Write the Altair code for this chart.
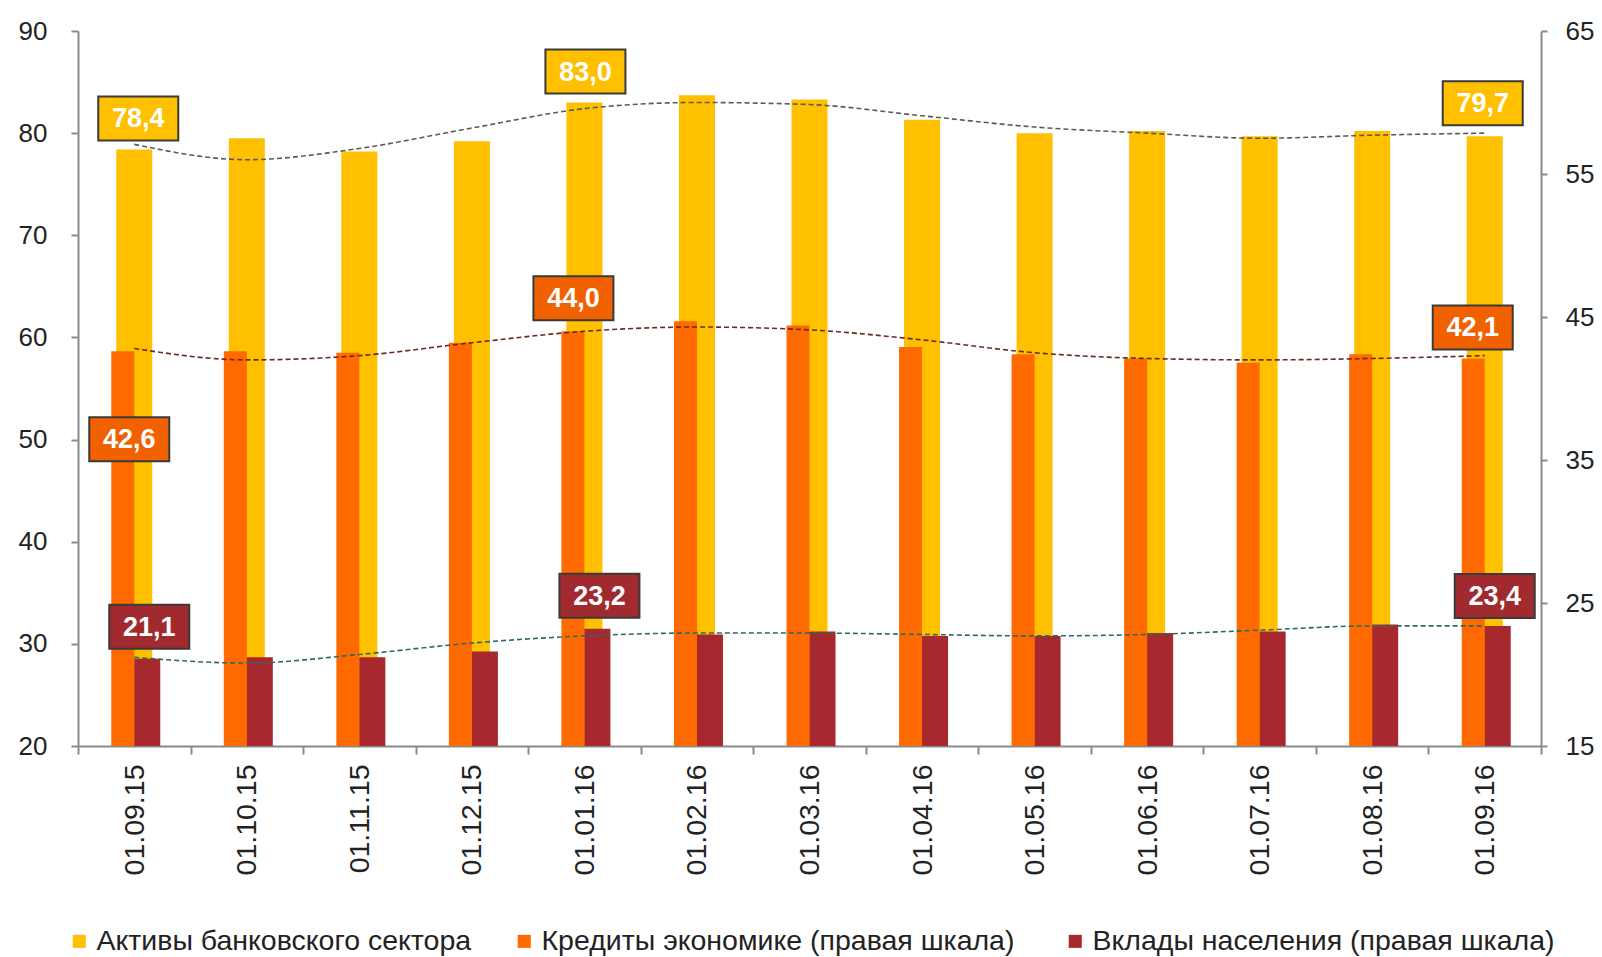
import altair as alt
import pandas as pd

categories = ["01.09.15", "01.10.15", "01.11.15", "01.12.15", "01.01.16", "01.02.16",
              "01.03.16", "01.04.16", "01.05.16", "01.06.16", "01.07.16", "01.08.16", "01.09.16"]
assets = [78.4, 79.5, 78.2, 79.2, 83.0, 83.7, 83.3, 81.3, 80.0, 80.2, 79.7, 80.2, 79.7]
credits = [42.6, 42.6, 42.5, 43.2, 44.0, 44.7, 44.4, 42.9, 42.4, 42.1, 41.8, 42.4, 42.1]
deposits = [21.1, 21.2, 21.2, 21.6, 23.2, 22.8, 23.0, 22.7, 22.7, 22.9, 23.0, 23.5, 23.4]
assets_trend = [78.9, 77.4, 78.5, 80.5, 82.4, 83.0, 82.8, 81.7, 80.6, 80.0, 79.5, 79.8, 80.0]
credits_trend = [42.8, 42.0, 42.3, 43.2, 44.0, 44.3, 44.1, 43.4, 42.5, 42.1, 42.0, 42.1, 42.3]
deposits_trend = [21.2, 20.8, 21.4, 22.2, 22.7, 22.9, 22.9, 22.8, 22.7, 22.8, 23.1, 23.4, 23.4]
series_names = ["Активы банковского сектора",
                "Кредиты  экономике (правая шкала)",
                "Вклады  населения  (правая шкала)"]
labelled_idx = [0, 4, 12]

# styles
FONT = "Liberation Sans"
col_a, col_c, col_d = "#FFC000", "#FF6A00", "#A8292D"
line_cols = ["#5E5A52", "#6B2A1E", "#2E6868"]
label_offsets = {
    ("a", 0): (4, -31), ("a", 4): (1, -31), ("a", 12): (-2, -33),
    ("c", 0): (-5, 88), ("c", 4): (-11, -33), ("c", 12): (-12, -31),
    ("d", 0): (15, -32), ("d", 4): (15, -33), ("d", 12): (10, -30),
}

df = pd.DataFrame({
    "cat": categories, "assets": assets, "credits": credits, "deposits": deposits,
    "assets_t": assets_trend, "credits_t": credits_trend, "deposits_t": deposits_trend,
    "s_a": [series_names[0]] * len(categories),
    "s_c": [series_names[1]] * len(categories),
    "s_d": [series_names[2]] * len(categories),
})

xscale = alt.Scale(paddingInner=0, paddingOuter=0)
left_scale = alt.Scale(domain=[20, 90], nice=False, zero=False)
right_scale = alt.Scale(domain=[15, 65], nice=False, zero=False)
color_scale = alt.Scale(domain=series_names, range=[col_a, col_c, col_d])
legend = alt.Legend(orient="none", legendX=-13, legendY=896, direction="horizontal",
                    title=None, symbolType="square", symbolSize=170, symbolStrokeWidth=0,
                    labelFontSize=28.5, labelFont=FONT, labelColor="#222222", labelLimit=0,
                    columnPadding=38, labelOffset=3)

x_axis = alt.Axis(title=None, labelAngle=270, labelFontSize=28.5, labelFont=FONT,
                  labelColor="#222222", tickBand="extent", tickSize=8, labelPadding=10,
                  domainColor="#8A8A8A", tickColor="#8A8A8A", domainWidth=2, tickWidth=2)
left_axis = alt.Axis(title=None, values=[20, 30, 40, 50, 60, 70, 80, 90], labelFontSize=26,
                     labelFont=FONT, labelColor="#222222", tickSize=7, labelPadding=24,
                     grid=False, domainColor="#8A8A8A", tickColor="#8A8A8A", domainWidth=2,
                     tickWidth=2)
right_axis = alt.Axis(title=None, orient="right", values=[15, 25, 35, 45, 55, 65], labelFontSize=26,
                      labelFont=FONT, labelColor="#222222", tickSize=6, labelPadding=18,
                      grid=False, domainColor="#8A8A8A", tickColor="#8A8A8A", domainWidth=2,
                      tickWidth=2)

base = alt.Chart(df)


def X():
    return alt.X("cat:N", sort=categories, scale=xscale, axis=x_axis)


def colour(field):
    return alt.Color(f"{field}:N", scale=color_scale, legend=legend)


bar_a = base.mark_bar(width=36).encode(
    x=X(), y=alt.Y("assets:Q", scale=left_scale, axis=left_axis),
    y2=alt.datum(20), color=colour("s_a"))
bar_c = base.mark_bar(width=23, xOffset=-11.5).encode(
    x=X(), y=alt.Y("credits:Q", scale=right_scale, axis=right_axis),
    y2=alt.datum(15), color=colour("s_c"))
bar_d = base.mark_bar(width=26, xOffset=13).encode(
    x=X(), y=alt.Y("deposits:Q", scale=right_scale, axis=None),
    y2=alt.datum(15), color=colour("s_d"))

lines = []
for field, sc, lc in [("assets_t", left_scale, line_cols[0]),
                      ("credits_t", right_scale, line_cols[1]),
                      ("deposits_t", right_scale, line_cols[2])]:
    lines.append(base.mark_line(strokeDash=[5, 3], strokeWidth=1.6, interpolate="monotone",
                                color=lc).encode(
        x=X(), y=alt.Y(f"{field}:Q", scale=sc, axis=None)))

label_layers = []
box_shape = "M-1,-0.55L1,-0.55L1,0.55L-1,0.55Z"
for key, vals, sc, fill in [("a", assets, left_scale, col_a),
                            ("c", credits, right_scale, "#F26100"),
                            ("d", deposits, right_scale, "#A02A2E")]:
    for i in labelled_idx:
        dx, dy = label_offsets[(key, i)]
        ldf = pd.DataFrame({"cat": [categories[i]], "v": [vals[i]],
                            "txt": [f"{vals[i]:.1f}".replace(".", ",")]})
        lb = alt.Chart(ldf)
        label_layers.append(lb.mark_point(shape=box_shape, size=6400, filled=True, fill=fill,
                                          stroke="#3A3A3A", strokeWidth=2, opacity=1,
                                          xOffset=dx, yOffset=dy).encode(
            x=X(), y=alt.Y("v:Q", scale=sc, axis=None)))
        label_layers.append(lb.mark_text(fontSize=27, fontWeight="bold", font=FONT, color="white",
                                         align="center", baseline="middle",
                                         xOffset=dx, yOffset=dy + 1).encode(
            x=X(), y=alt.Y("v:Q", scale=sc, axis=None), text="txt:N"))

chart = alt.layer(bar_a, bar_c, bar_d, *lines, *label_layers).resolve_scale(
    y="independent"
).properties(
    width=1463, height=715,
    padding={"left": 70, "top": 23, "right": 53, "bottom": 213},
    autosize=alt.AutoSizeParams(type="none"),
    background="white",
).configure_view(stroke=None)

chart.save("out.html", embed_options={"renderer": "svg", "actions": False})
